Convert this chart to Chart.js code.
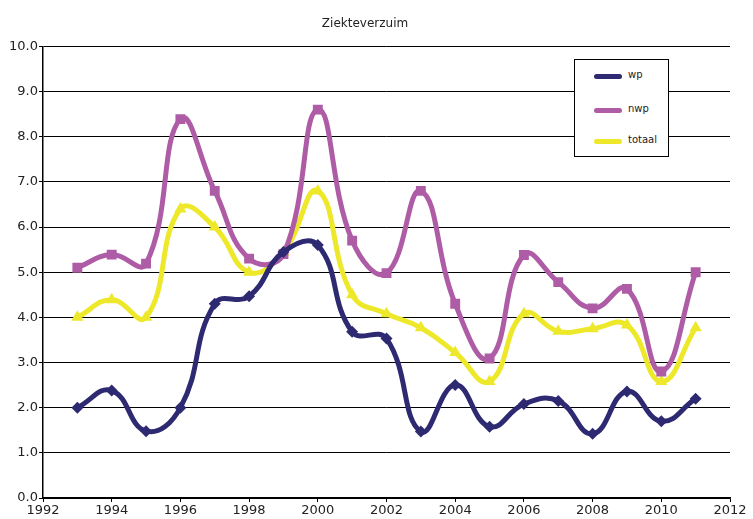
<!DOCTYPE html>
<html>
<head>
<meta charset="utf-8">
<script src="https://cdn.jsdelivr.net/npm/chart.js@4/dist/chart.umd.min.js"></script>
<style>
  body { margin: 0; background: #fff; }
  #wrap { position: relative; width: 753px; height: 519px; }
  #legend {
    position: absolute; left: 574px; top: 59px; width: 95px; height: 98px;
    border: 1px solid #000; background: #fff; box-sizing: border-box;
    font-family: "DejaVu Sans", sans-serif; font-size: 10px; color: #222;
  }
  .item { position: absolute; left: 19px; height: 10px; }
  .item span.sw { position: absolute; left: 0; top: 3px; width: 28px; height: 5px; border-radius: 3px; }
  .item span.lb { position: absolute; left: 34px; top: -2px; white-space: nowrap; }
</style>
</head>
<body>
<div id="wrap">
  <canvas id="chart" width="753" height="519"></canvas>
  <div id="legend"></div>
</div>
<script>
const years = [1993, 1994, 1995, 1996, 1997, 1998, 1999, 2000, 2001, 2002,
               2003, 2004, 2005, 2006, 2007, 2008, 2009, 2010, 2011];
const wp = [2.0, 2.38, 1.48, 2.0, 4.3, 4.47, 5.45, 5.6, 3.68, 3.53,
            1.47, 2.5, 1.58, 2.08, 2.15, 1.42, 2.36, 1.7, 2.2];
const nwp = [5.1, 5.39, 5.19, 8.39, 6.8, 5.3, 5.4, 8.6, 5.7, 4.98,
             6.8, 4.3, 3.09, 5.38, 4.78, 4.2, 4.63, 2.8, 5.0];
const totaal = [4.0, 4.39, 4.0, 6.4, 6.0, 5.0, 5.45, 6.8, 4.5, 4.08,
                3.77, 3.22, 2.58, 4.08, 3.69, 3.75, 3.83, 2.58, 3.77];
const seriesNames = ["wp", "nwp", "totaal"];
const colors = ["#2e2a72", "#ae5ca6", "#eee82a"];
const markers = ["rectRot", "rect", "triangle"];
const xTicks = [1992, 1994, 1996, 1998, 2000, 2002, 2004, 2006, 2008, 2010, 2012];

const font = "'DejaVu Sans', sans-serif";

function pts(vals) {
  return years.map((y, i) => ({ x: y, y: vals[i] }));
}

const datasets = [wp, nwp, totaal].map((vals, i) => ({
  label: seriesNames[i],
  data: pts(vals),
  borderColor: colors[i],
  backgroundColor: colors[i],
  borderWidth: 5,
  tension: 0.45,
  pointStyle: markers[i],
  pointRadius: i === 0 ? 6 : 7,
  pointBorderWidth: 0,
  pointHoverRadius: 7
}));

new Chart(document.getElementById('chart').getContext('2d'), {
  type: 'line',
  data: { datasets: datasets },
  options: {
    responsive: false,
    animation: false,
    layout: { padding: { left: 0, right: 23, top: 0, bottom: 0 } },
    plugins: {
      legend: { display: false },
      tooltip: { enabled: false },
      title: {
        display: true,
        text: 'Ziekteverzuim',
        color: '#222',
        font: { family: font, size: 12, weight: 'normal' },
        padding: { top: 17, bottom: 15 }
      }
    },
    scales: {
      x: {
        type: 'linear',
        min: 1992,
        max: 2012,
        afterBuildTicks: (axis) => { axis.ticks = xTicks.map(v => ({ value: v })); },
        ticks: {
          color: '#222',
          font: { family: font, size: 13 },
          padding: 1,
          maxRotation: 0,
          callback: (v) => String(v)
        },
        grid: { drawOnChartArea: false, drawTicks: true, tickLength: 4, color: '#000' },
        border: { color: '#000', width: 1.5 },
        afterFit: (axis) => { axis.height = 21; }
      },
      y: {
        min: 0,
        max: 10,
        ticks: {
          stepSize: 1,
          color: '#222',
          font: { family: font, size: 13 },
          padding: 1,
          callback: (v) => v.toFixed(1)
        },
        grid: { color: '#000', lineWidth: 1, tickLength: 4 },
        border: { color: '#000', width: 1.5 },
        afterFit: (axis) => { axis.width = 43; }
      }
    }
  }
});

// legend box
const legend = document.getElementById('legend');
const tops = [11, 45, 76];
seriesNames.forEach((name, i) => {
  const d = document.createElement('div');
  d.className = 'item';
  d.style.top = tops[i] + 'px';
  d.innerHTML = '<span class="sw" style="background:' + colors[i] + '"></span><span class="lb">' + name + '</span>';
  legend.appendChild(d);
});
</script>
</body>
</html>
